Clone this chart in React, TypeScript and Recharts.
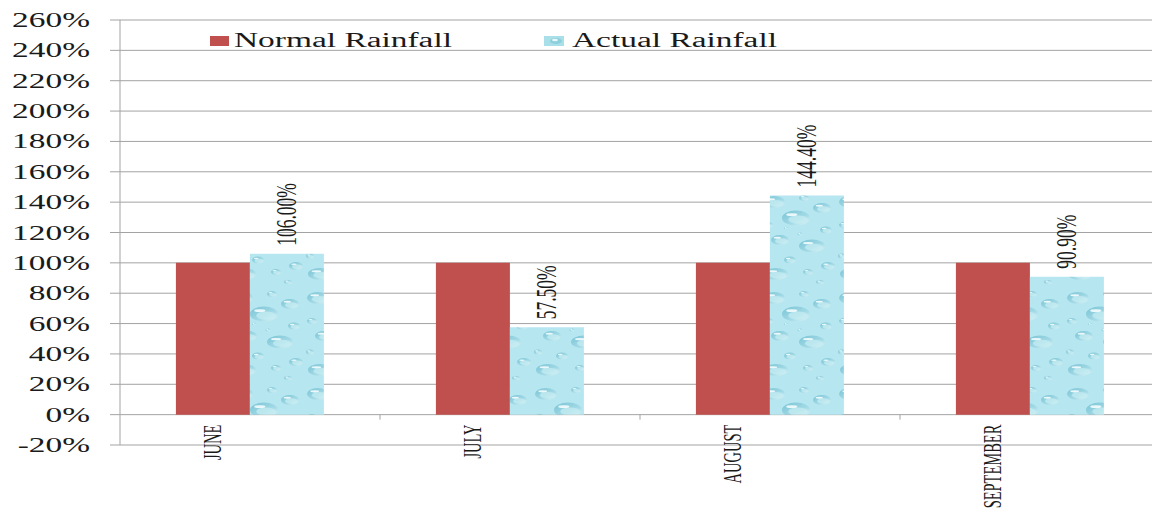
import {
  BarChart,
  Bar,
  XAxis,
  YAxis,
  CartesianGrid,
  Legend,
  LabelList,
} from "recharts";

const months = ["JUNE", "JULY", "AUGUST", "SEPTEMBER"];
const normalRainfall = [100, 100, 100, 100];
const actualRainfall = [106.0, 57.5, 144.4, 90.9];
const yTicks = [-20, 0, 20, 40, 60, 80, 100, 120, 140, 160, 180, 200, 220, 240, 260];

const data = months.map((month, i) => ({
  month,
  normal: normalRainfall[i],
  actual: actualRainfall[i],
}));

const FONT = '"Liberation Serif", "Times New Roman", serif';
const STRETCH = 1.67;
const GRID = "#a3a3a3";
const RED = "#c0504d";

const CHART_W = 1170;
const CHART_H = 510;
const MARGIN = { top: 20, right: 10, left: 0, bottom: 0 };
const Y_AXIS_W = 120;
const X_AXIS_H = 65;
const BAND = (CHART_W - MARGIN.left - MARGIN.right - Y_AXIS_W) / months.length;
const PLOT_H = CHART_H - MARGIN.top - MARGIN.bottom - X_AXIS_H;
const ZERO_FROM_BOTTOM = PLOT_H * (20 / 280);
const BAR_W = BAND * (1 - 2 * 0.215) / 2;

const YTick = (props: any) => {
  const { x, y, payload } = props;
  return (
    <text
      transform={`translate(${x - 18},${y}) scale(${STRETCH},1)`}
      textAnchor="end"
      dy="0.35em"
      fontFamily={FONT}
      fontSize={20}
      fill="#1a1a1a"
    >
      {payload.value}%
    </text>
  );
};

const XTick = (props: any) => {
  const { x, y, payload } = props;
  const zeroY = y - ZERO_FROM_BOTTOM;
  const boundary = x + BAND / 2;
  return (
    <g>
      <line x1={boundary} y1={zeroY} x2={boundary} y2={zeroY + 5} stroke={GRID} />
      <text
        transform={`translate(${x - BAR_W / 2},${zeroY + 10}) scale(${STRETCH},1) rotate(-90)`}
        textAnchor="end"
        dy="0.35em"
        fontFamily={FONT}
        fontSize={14.5}
        fill="#1a1a1a"
      >
        {payload.value}
      </text>
    </g>
  );
};

const ValueLabel = (props: any) => {
  const { x, y, width, value } = props;
  return (
    <text
      transform={`translate(${x + width / 2 - 1},${y - 8}) scale(${STRETCH},1) rotate(-90)`}
      textAnchor="start"
      dy="0.35em"
      fontFamily={FONT}
      fontSize={17.5}
      fill="#1a1a1a"
    >
      {Number(value).toFixed(2)}%
    </text>
  );
};

const legendText = {
  display: "inline-block",
  transform: `scaleX(${STRETCH})`,
  transformOrigin: "left center",
  fontFamily: FONT,
  fontSize: 20,
  color: "#1a1a1a",
  lineHeight: "20px",
  whiteSpace: "nowrap" as const,
};

const RainLegend = () => (
  <div style={{ position: "relative", height: 24 }}>
    <span
      style={{ position: "absolute", left: 210, top: 6, width: 19, height: 10, background: RED }}
    />
    <span style={{ ...legendText, position: "absolute", left: 234, top: 0 }}>
      Normal Rainfall
    </span>
    <svg style={{ position: "absolute", left: 544, top: 6 }} width={20} height={10}>
      <rect width={20} height={10} fill="#a9dfe9" />
      <ellipse cx={12} cy={5} rx={6} ry={3} fill="#8dcfdd" />
      <ellipse cx={11} cy={4} rx={3} ry={1.2} fill="#e6f8fb" />
    </svg>
    <span style={{ ...legendText, position: "absolute", left: 572, top: 0 }}>
      Actual Rainfall
    </span>
  </div>
);

// a single droplet inside the water texture tile
const Drop = ({ cx, cy, rx, ry }: { cx: number; cy: number; rx: number; ry: number }) => (
  <g>
    <ellipse cx={cx} cy={cy} rx={rx} ry={ry} fill="url(#dropBody)" />
    <ellipse
      cx={cx + rx * 0.15}
      cy={cy + ry * 0.2}
      rx={rx * 0.7}
      ry={ry * 0.55}
      fill="#c9eef4"
      opacity={0.7}
    />
    <ellipse
      cx={cx - rx * 0.3}
      cy={cy - ry * 0.45}
      rx={rx * 0.4}
      ry={Math.max(ry * 0.18, 0.7)}
      fill="#f4fdfe"
      opacity={0.9}
    />
  </g>
);

const drops = [
  { cx: 14, cy: 10, rx: 11, ry: 6 },
  { cx: 44, cy: 6, rx: 5, ry: 3 },
  { cx: 62, cy: 16, rx: 9, ry: 5 },
  { cx: 36, cy: 26, rx: 14, ry: 7.5 },
  { cx: 8, cy: 33, rx: 5, ry: 3 },
  { cx: 66, cy: 38, rx: 6, ry: 3.5 },
  { cx: 20, cy: 48, rx: 9, ry: 5 },
  { cx: 52, cy: 54, rx: 13, ry: 6.5 },
  { cx: 6, cy: 64, rx: 4, ry: 2.5 },
  { cx: 30, cy: 68, rx: 6, ry: 3.5 },
  { cx: 16, cy: 82, rx: 12, ry: 6 },
  { cx: 48, cy: 80, rx: 5, ry: 3 },
  { cx: 68, cy: 74, rx: 7, ry: 4 },
  { cx: 60, cy: 90, rx: 4, ry: 2 },
  { cx: 40, cy: 42, rx: 2.5, ry: 1.5 },
  { cx: 26, cy: 36, rx: 2, ry: 1.2 },
];

export default function App() {
  return (
    <div
      style={{
        position: "absolute",
        left: 0,
        top: 0,
        width: 1152,
        height: 510,
        overflow: "hidden",
        background: "#fff",
      }}
    >
      <BarChart
        width={CHART_W}
        height={CHART_H}
        data={data}
        margin={MARGIN}
        barCategoryGap="21.5%"
        barGap={0}
      >
        <defs>
          <linearGradient id="dropBody" x1="0" y1="0" x2="1" y2="1">
            <stop offset="0%" stopColor="#78c3d4" />
            <stop offset="60%" stopColor="#a3dae6" />
            <stop offset="100%" stopColor="#e3f7fa" />
          </linearGradient>
          <pattern id="drops" patternUnits="userSpaceOnUse" width={76} height={96}>
            <rect width={76} height={96} fill="#b6e6ef" />
            {drops.map((d, i) => (
              <Drop key={i} {...d} />
            ))}
          </pattern>
        </defs>
        <CartesianGrid vertical={false} stroke={GRID} />
        <XAxis
          dataKey="month"
          height={X_AXIS_H}
          axisLine={false}
          tickLine={false}
          tickSize={0}
          tickMargin={0}
          interval={0}
          tick={<XTick />}
        />
        <YAxis
          width={Y_AXIS_W}
          domain={[-20, 260]}
          ticks={yTicks}
          interval={0}
          tickSize={10}
          axisLine={{ stroke: GRID }}
          tickLine={{ stroke: GRID }}
          tick={<YTick />}
        />
        <Legend
          layout="horizontal"
          verticalAlign="middle"
          align="center"
          wrapperStyle={{ top: 30, left: 0, width: 1152 }}
          content={<RainLegend />}
        />
        <Bar dataKey="normal" name="Normal Rainfall" fill={RED} isAnimationActive={false} />
        <Bar
          dataKey="actual"
          name="Actual Rainfall"
          fill="url(#drops)"
          isAnimationActive={false}
        >
          <LabelList dataKey="actual" content={<ValueLabel />} />
        </Bar>
      </BarChart>
    </div>
  );
}
